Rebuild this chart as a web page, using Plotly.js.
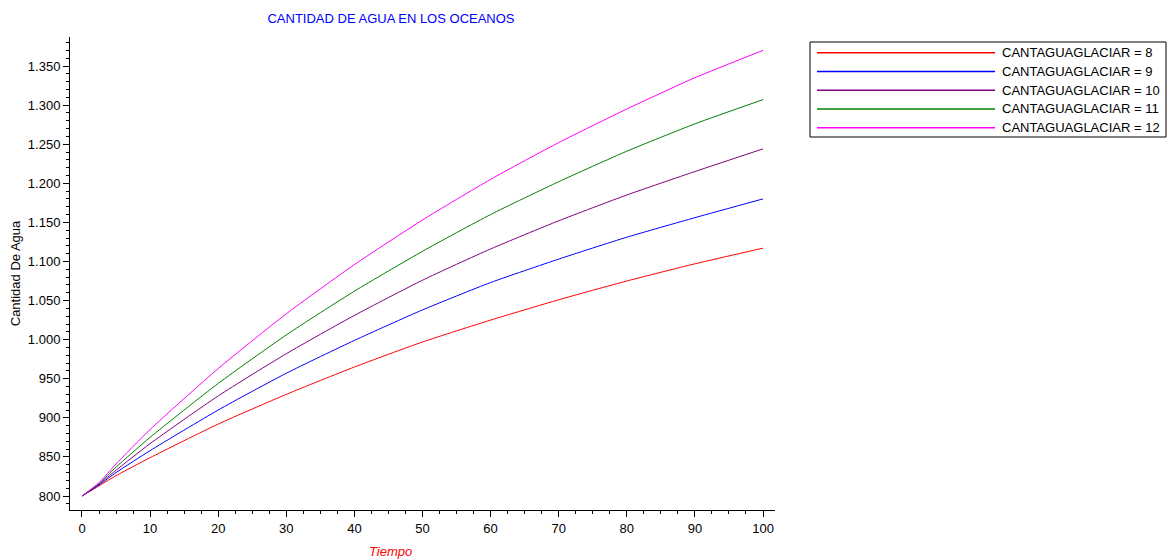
<!DOCTYPE html>
<html><head><meta charset="utf-8">
<script src="https://cdn.plot.ly/plotly-3.0.1.min.js"></script>
<style>html,body{margin:0;padding:0;background:#fff;} #chart{width:1171px;height:560px;}</style>
</head><body><div id="chart"></div>
<script>
// ---- data ----
const tiempo = [0, 2.5, 5, 10, 20, 30, 40, 50, 60, 70, 80, 90, 100];
const agua8  = [800, 813, 826, 849, 892, 930, 965, 997, 1025, 1051, 1075, 1097, 1117];
const agua9  = [800, 814, 830, 858, 910, 957, 999, 1038, 1073, 1103, 1131, 1156, 1180];
const agua10 = [800, 815, 833, 867, 928, 982, 1031, 1076, 1116, 1152, 1185, 1215, 1244];
const agua11 = [800, 816, 837, 875, 944, 1006, 1062, 1113, 1160, 1202, 1241, 1276, 1307];
const agua12 = [800, 817, 841, 885, 963, 1033, 1096, 1153, 1205, 1252, 1295, 1335, 1370];
const seriesNames = ['CANTAGUAGLACIAR = 8','CANTAGUAGLACIAR = 9','CANTAGUAGLACIAR = 10','CANTAGUAGLACIAR = 11','CANTAGUAGLACIAR = 12'];
const seriesValues = [agua8, agua9, agua10, agua11, agua12];
const seriesColors = ['#ff0000','#0000ff','#800080','#008000','#ff00ff'];
const chartTitle = 'CANTIDAD DE AGUA EN LOS OCEANOS';
const xTitle = 'Tiempo';
const yTitle = 'Cantidad De Agua';

// ---- layout geometry ----
const W = 1171, H = 560;
const L = 70, R = 775, T = 37, B = 510;
const px2x = p => (p - L) / (R - L);
const py2y = p => (B - p) / (B - T);
const FONT = 'Liberation Sans, Arial, sans-serif';
const FS = 13;

const traces = seriesValues.map((vals, i) => ({
  x: tiempo, y: vals, type: 'scatter', mode: 'lines', name: seriesNames[i],
  line: {color: seriesColors[i], width: 1, shape: 'spline', smoothing: 0.6},
  showlegend: false, hoverinfo: 'x+y+name'
}));

const shapes = [];
const annotations = [];
// custom legend box
const legTop = 42, legBot = 137, legLeft = 810, legRight = 1166;
shapes.push({type: 'rect', xref: 'paper', yref: 'paper',
  x0: px2x(legLeft), x1: px2x(legRight), y0: py2y(legTop), y1: py2y(legBot),
  line: {color: '#000', width: 1}, fillcolor: '#fff'});
seriesNames.forEach((n, i) => {
  const yy = py2y(52.7 + i * 18.75);
  shapes.push({type: 'line', xref: 'paper', yref: 'paper',
    x0: px2x(817), x1: px2x(995), y0: yy, y1: yy,
    line: {color: seriesColors[i], width: 1.5}});
  annotations.push({xref: 'paper', yref: 'paper', x: px2x(1000), y: yy,
    xanchor: 'left', yanchor: 'middle', showarrow: false, text: n,
    font: {family: FONT, size: FS, color: '#000'}});
});
// x-axis title
annotations.push({xref: 'paper', yref: 'paper', x: px2x(390), y: py2y(551),
  xanchor: 'center', yanchor: 'middle', showarrow: false, text: '<i>' + xTitle + '</i>',
  font: {family: FONT, size: FS, color: '#ff0000'}});

const layout = {
  width: W, height: H,
  margin: {l: L, r: W - R, t: T, b: H - B, pad: 0},
  paper_bgcolor: '#fff', plot_bgcolor: '#fff',
  separators: ',.',
  font: {family: FONT, size: FS, color: '#000'},
  title: {text: chartTitle, xref: 'container', yref: 'container',
    x: 391 / W, xanchor: 'center', y: 1 - 18 / H, yanchor: 'middle',
    font: {family: FONT, size: FS, color: '#0000ff'}},
  xaxis: {range: [-1.76, 101.76], tick0: 0, dtick: 10, ticks: 'outside', ticklen: 6,
    tickcolor: '#000', tickwidth: 1, showline: true, linecolor: '#000', linewidth: 1,
    showgrid: false, zeroline: false, automargin: false,
    minor: {dtick: 2.5, ticks: 'outside', ticklen: 3, tickcolor: '#000', showgrid: false},
    tickfont: {family: FONT, size: FS, color: '#000'}},
  yaxis: {range: [782.1, 1387.1], tick0: 800, dtick: 50, ticks: 'outside', ticklen: 6,
    tickcolor: '#000', tickwidth: 1, showline: true, linecolor: '#000', linewidth: 1,
    showgrid: false, zeroline: false, automargin: false, tickformat: ',d',
    minor: {dtick: 10, ticks: 'outside', ticklen: 3, tickcolor: '#000', showgrid: false},
    tickfont: {family: FONT, size: FS, color: '#000'},
    title: {text: yTitle, standoff: 4, font: {family: FONT, size: FS, color: '#000'}}},
  shapes: shapes, annotations: annotations, showlegend: false
};

Plotly.newPlot('chart', traces, layout, {displayModeBar: false, staticPlot: false});
</script></body></html>
